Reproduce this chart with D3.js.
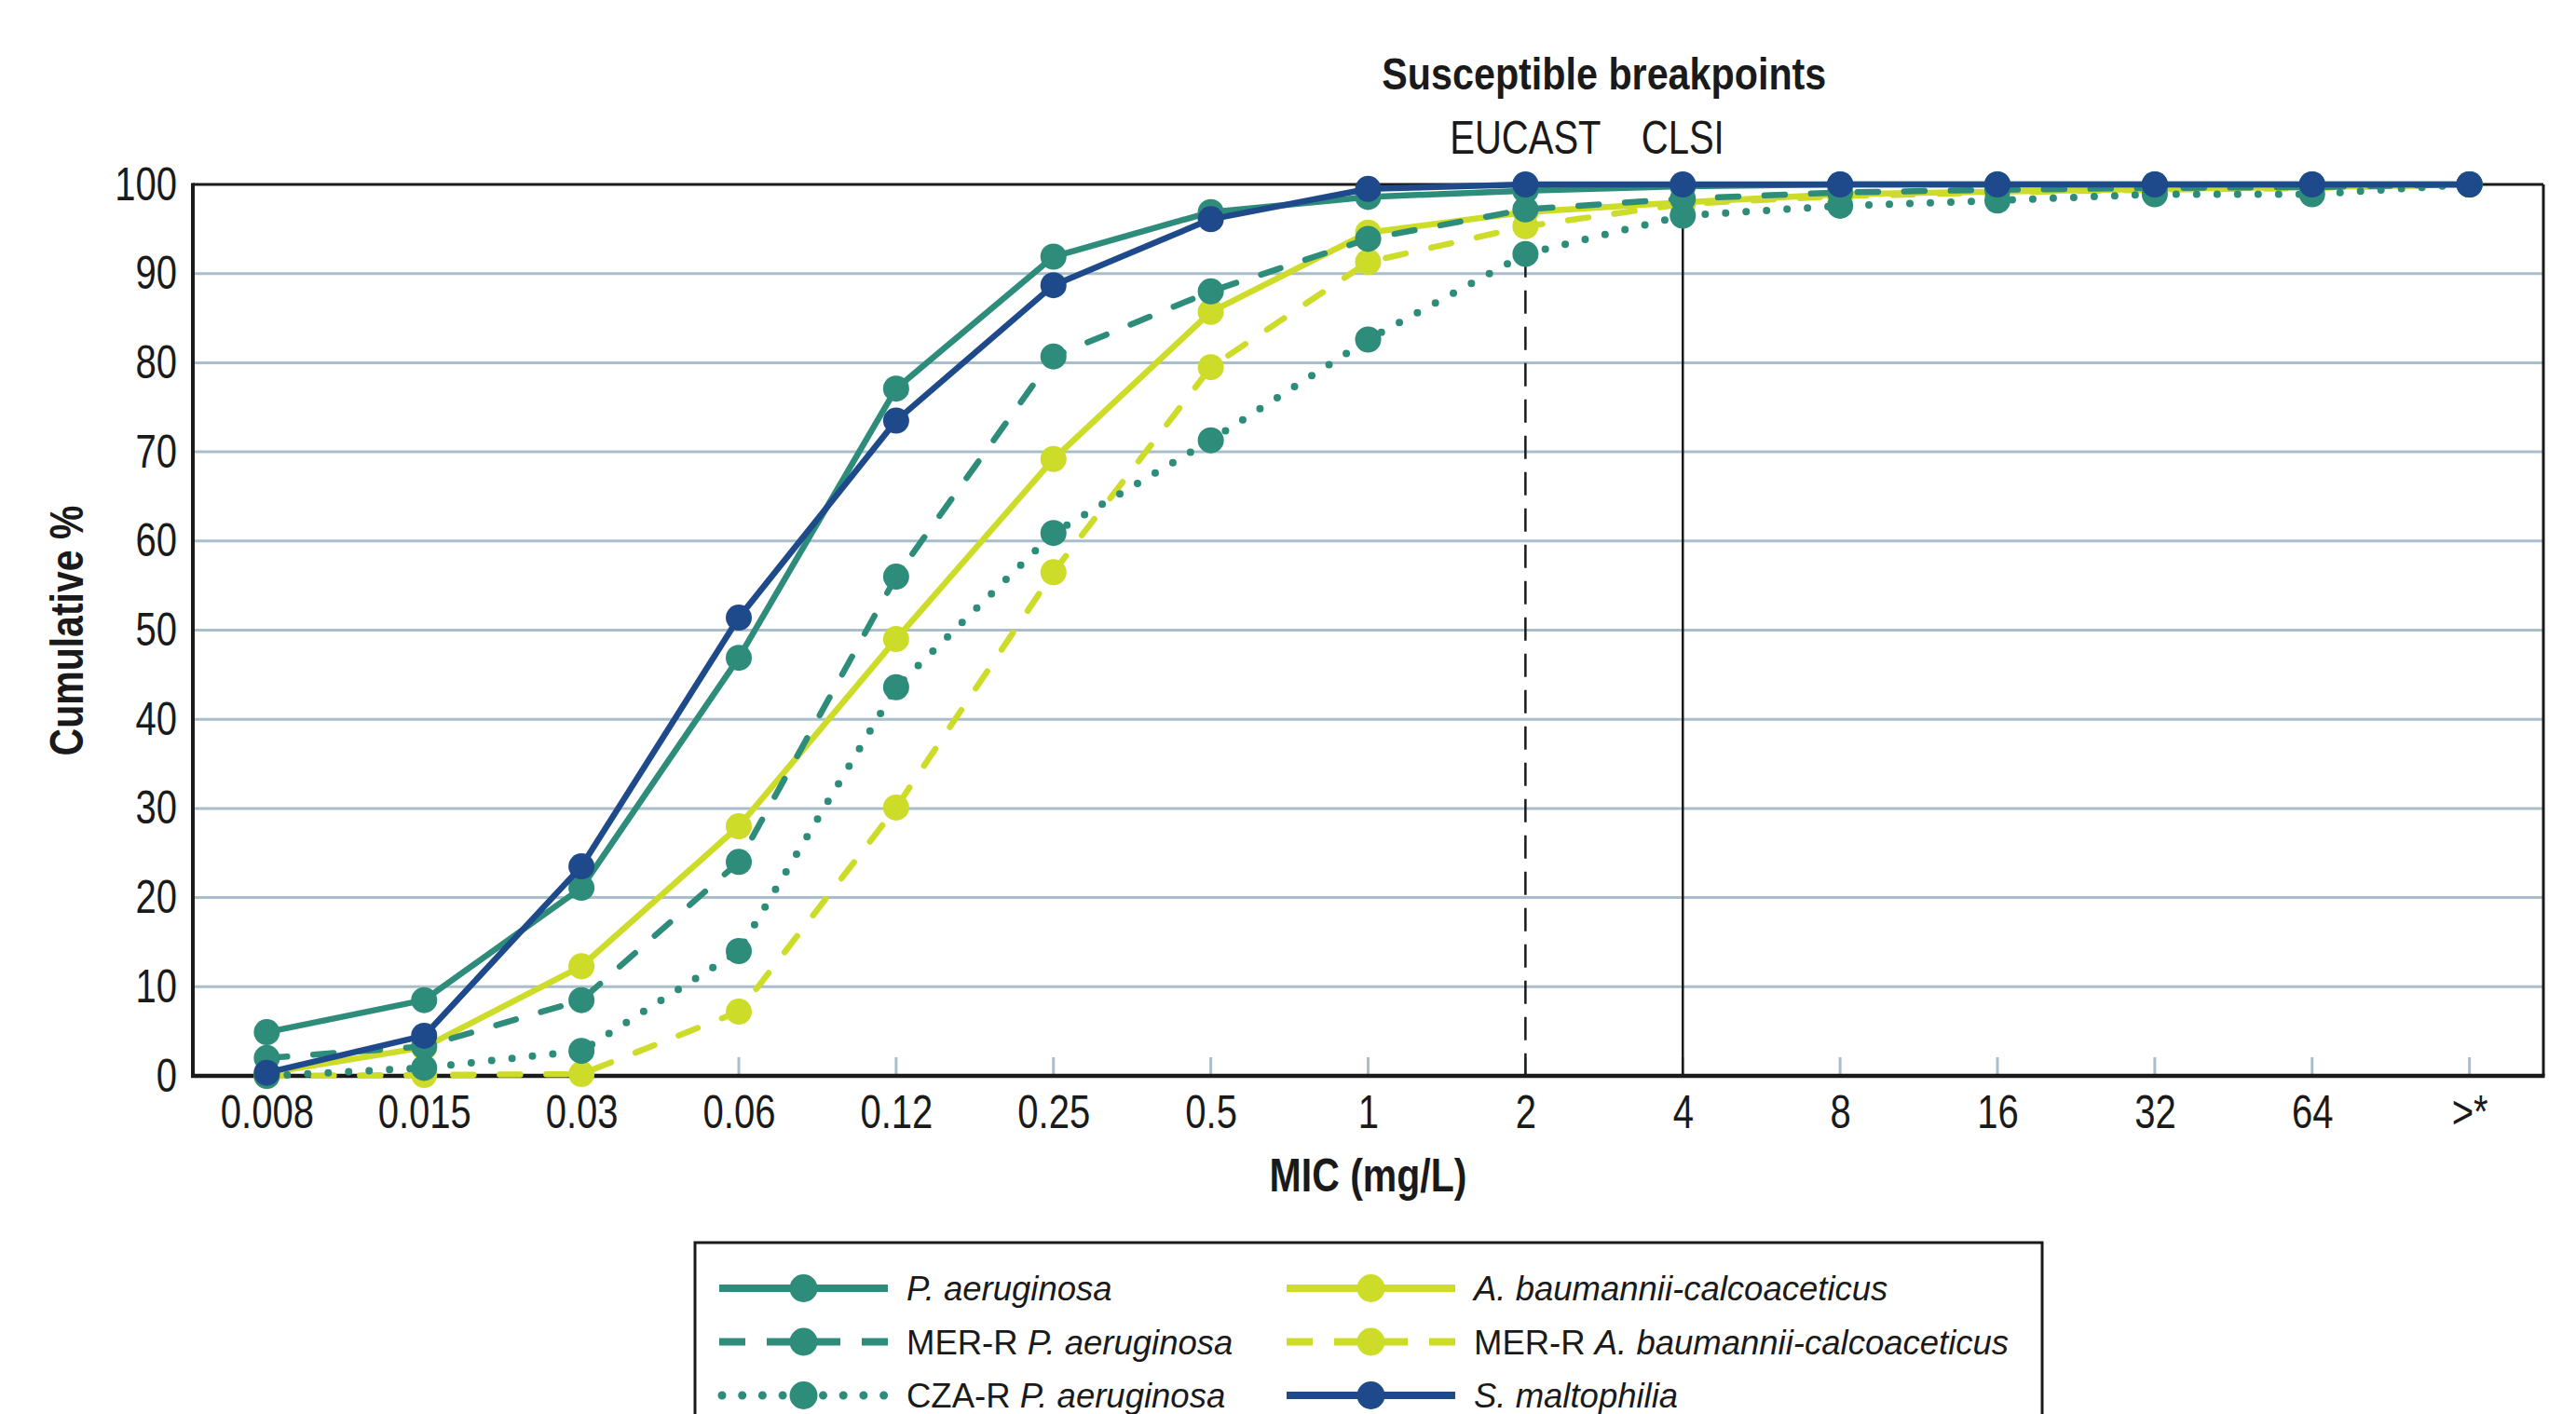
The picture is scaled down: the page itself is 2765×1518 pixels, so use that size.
<!DOCTYPE html>
<html>
<head>
<meta charset="utf-8">
<script src="https://cdn.jsdelivr.net/npm/d3@7"></script>
<style>
  body { margin: 0; background: #fff; }
  svg { display: block; }
  text { font-family: "Liberation Sans", Arial, Helvetica, sans-serif; }
</style>
</head>
<body>
<div id="chart"></div>
<script>
"use strict";
(function(){
  // MIC categories (x axis)
  const mic = ["0.008","0.015","0.03","0.06","0.12","0.25","0.5","1","2","4","8","16","32","64",">*"]
  const yTicks = [0,10,20,30,40,50,60,70,80,90,100]

  // cumulative % per series
  const pAer      = [4.9, 8.5, 21.1, 46.9, 77.1, 91.9, 96.9, 98.6, 99.3, 99.8, 100, 100, 100, 100, 100]
  const merRPAer  = [2.0, 3.3, 8.5, 24.0, 56.0, 80.7, 88.0, 93.9, 97.2, 98.4, 99.1, 99.4, 99.6, 99.7, 100]
  const czaRPAer  = [0, 0.9, 2.8, 14.0, 43.6, 60.9, 71.3, 82.6, 92.2, 96.5, 97.6, 98.2, 98.9, 98.9, 100]
  const aBaum     = [0.3, 3.2, 12.3, 28.0, 49.0, 69.2, 85.7, 94.6, 96.9, 98.0, 98.9, 99.2, 99.5, 99.7, 100]
  const merRABaum = [0, 0.1, 0.2, 7.2, 30.1, 56.5, 79.5, 91.3, 95.3, 97.8, 98.7, 99.1, 99.4, 99.6, 100]
  const sMalt     = [0.35, 4.5, 23.5, 51.4, 73.5, 88.7, 96.1, 99.5, 100, 100, 100, 100, 100, 100, 100]

  // breakpoints
  const breakpoints = [
    {label: "EUCAST", mic: "2", dash: "25,14"},
    {label: "CLSI", mic: "4", dash: null}
  ]

  const teal = "#2e8c7a", lime = "#cddc29", navy = "#1e4a8b"

  const series = [
    {id: "aBaum", values: aBaum, color: lime, style: "solid", pre: "", name: "A. baumannii-calcoaceticus"},
    {id: "merRABaum", values: merRABaum, color: lime, style: "dash", pre: "MER-R ", name: "A. baumannii-calcoaceticus"},
    {id: "pAer", values: pAer, color: teal, style: "solid", pre: "", name: "P. aeruginosa"},
    {id: "merRPAer", values: merRPAer, color: teal, style: "dash", pre: "MER-R ", name: "P. aeruginosa"},
    {id: "czaRPAer", values: czaRPAer, color: teal, style: "dot", pre: "CZA-R ", name: "P. aeruginosa"},
    {id: "sMalt", values: sMalt, color: navy, style: "solid", pre: "", name: "S. maltophilia"}
  ]
  const legendOrder = ["pAer","merRPAer","czaRPAer","aBaum","merRABaum","sMalt"]

  let m = {width: 2765, height: 1518, left: 207, right: 2730, top: 198, bottom: 1155}
  const grid = "#a9bdca"
  const ink = "#1a1a1a"
  const squeeze = 0.8 // the original uses a condensed face

  const svg = d3.select("#chart").append("svg")
      .attr("width", m.width)
      .attr("height", m.height)

  // place condensed text: x/y in page units, squeezed horizontally
  function narrowText(parent, tx, ty, str, size, opts) {
    opts = opts || {}
    let k = opts.k || squeeze
    return parent.append("text")
      .attr("transform", "translate(" + tx + "," + ty + ")" + (opts.rotate ? "rotate(" + opts.rotate + ")" : "") + "scale(" + k + ",1)")
      .attr("text-anchor", opts.anchor || "middle")
      .attr("font-size", size + "px")
      .attr("font-weight", opts.bold ? "bold" : null)
      .attr("fill", ink)
      .text(str)
  }

  const x = d3.scalePoint()
      .domain(mic)
      .range([m.left, m.right])
      .padding(0.47)
  const y = d3.scaleLinear()
      .domain([0, 100])
      .range([m.bottom, m.top])

  // horizontal grid
  svg.append("g").selectAll("line")
    .data(yTicks.filter(d => d > 0 && d < 100))
    .enter().append("line")
      .attr("x1", m.left).attr("x2", m.right)
      .attr("y1", d => y(d)).attr("y2", d => y(d))
      .attr("stroke", grid).attr("stroke-width", 3)

  // little inner ticks on x axis
  svg.append("g").selectAll("line")
    .data(mic)
    .enter().append("line")
      .attr("x1", d => x(d)).attr("x2", d => x(d))
      .attr("y1", y(0)).attr("y2", y(0) - 20)
      .attr("stroke", grid).attr("stroke-width", 3)

  // breakpoint lines start at the lowest curve
  breakpoints.forEach(function(b){
    let i = mic.indexOf(b.mic)
    let low = d3.min(series, s => s.values[i])
    svg.append("line")
      .attr("x1", x(b.mic)).attr("x2", x(b.mic))
      .attr("y1", y(low)).attr("y2", y(0))
      .attr("stroke", ink).attr("stroke-width", 2.5)
      .attr("stroke-dasharray", b.dash)
    narrowText(svg, x(b.mic), 165, b.label, 50)
  })
  narrowText(svg, (x("2") + x("4")) / 2, 96, "Susceptible breakpoints", 48, {bold: true, k: 0.86})

  // frame
  svg.append("line").attr("x1", m.left).attr("x2", m.right).attr("y1", m.top).attr("y2", m.top)
    .attr("stroke", ink).attr("stroke-width", 3)
  svg.append("line").attr("x1", m.right).attr("x2", m.right).attr("y1", m.top).attr("y2", m.bottom)
    .attr("stroke", ink).attr("stroke-width", 3)

  // axes
  const yAxis = svg.append("g")
      .attr("transform", "translate(" + m.left + ",0)")
      .call(d3.axisLeft(y).tickValues(yTicks).tickSize(0).tickPadding(17))
  const xAxis = svg.append("g")
      .attr("transform", "translate(0," + m.bottom + ")")
      .call(d3.axisBottom(x).tickSize(0).tickPadding(21))
  ;[yAxis, xAxis].forEach(function(a){
    a.select(".domain").remove()
    a.attr("font-family", null).attr("font-size", null)
    a.selectAll("text")
      .attr("font-size", "50px").attr("fill", ink)
      .attr("x", function(){ return (+d3.select(this).attr("x") || 0) / squeeze })
      .attr("transform", "scale(" + squeeze + ",1)")
  })
  svg.append("line").attr("x1", m.left).attr("x2", m.left).attr("y1", m.top - 1.5).attr("y2", m.bottom + 2)
    .attr("stroke", ink).attr("stroke-width", 4)
  svg.append("line").attr("x1", m.left - 2).attr("x2", m.right + 1.5).attr("y1", m.bottom).attr("y2", m.bottom)
    .attr("stroke", ink).attr("stroke-width", 4.5)

  // axis titles
  narrowText(svg, 89, 677, "Cumulative %", 50, {bold: true, rotate: -90, k: 0.82})
  narrowText(svg, x("1"), 1279, "MIC (mg/L)", 50, {bold: true, k: 0.82})

  // series
  const line = d3.line()
      .x((d, i) => x(mic[i]))
      .y(d => y(d))
  function dashFor(style) {
    if (style === "dash") return "22,28"
    if (style === "dot") return "0,22"
    return null
  }
  series.forEach(function(s){
    const g = svg.append("g").attr("class", "series " + s.id)
    g.append("path")
      .datum(s.values)
      .attr("d", line)
      .attr("fill", "none")
      .attr("stroke", s.color)
      .attr("stroke-width", s.style === "dot" ? 8 : 6.5)
      .attr("stroke-linecap", "round")
      .attr("stroke-linejoin", "round")
      .attr("stroke-dasharray", dashFor(s.style))
    g.selectAll("circle")
      .data(s.values)
      .enter().append("circle")
        .attr("cx", (d, i) => x(mic[i]))
        .attr("cy", d => y(d))
        .attr("r", 14)
        .attr("fill", s.color)
  })

  // legend
  const legend = svg.append("g").attr("class", "legend")
  legend.append("rect")
    .attr("x", 746).attr("y", 1334)
    .attr("width", 1446).attr("height", 260)
    .attr("fill", "#fff").attr("stroke", ink).attr("stroke-width", 3)
  legendOrder.forEach(function(id, k){
    const s = series.find(d => d.id === id)
    const col = Math.floor(k / 3), row = k % 3
    const x0 = 772 + col * 609, cy = 1383 + row * 57.5
    const item = legend.append("g").attr("transform", "translate(" + x0 + "," + cy + ")")
    let dash = null, lx1 = 0, lx2 = 181
    if (s.style === "dash") dash = "28,23,79,23,28"
    if (s.style === "dot") { dash = "0,21.7"; lx1 = 3; lx2 = 178 }
    item.append("line")
      .attr("x1", lx1).attr("x2", lx2).attr("y1", 0).attr("y2", 0)
      .attr("stroke", s.color)
      .attr("stroke-width", s.style === "dot" ? 9 : 8)
      .attr("stroke-linecap", s.style === "dot" ? "round" : "butt")
      .attr("stroke-dasharray", dash)
    item.append("circle").attr("cx", 90.5).attr("cy", 0).attr("r", 15).attr("fill", s.color)
    const t = item.append("text")
      .attr("x", 201).attr("dy", "0.36em")
      .attr("font-size", "36.5px").attr("fill", ink)
    if (s.pre) t.append("tspan").text(s.pre)
    t.append("tspan").attr("font-style", "italic").text(s.name)
  })
})();
</script>
</body>
</html>
